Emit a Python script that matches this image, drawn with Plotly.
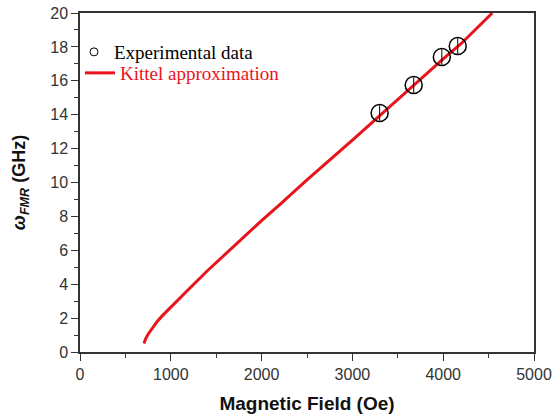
import plotly.graph_objects as go

exp_field = [3300, 3675, 3985, 4160]
exp_freq = [14.1, 15.75, 17.4, 18.05]
exp_err = [0.45, 0.45, 0.45, 0.45]

# Kittel approximation curve
kit_field = [705, 720, 750, 800, 850, 900, 1000, 1100, 1200, 1400, 1600, 1800,
             2000, 2200, 2500, 3000, 3300, 3500, 4000, 4200, 4540]
kit_freq = [0.5, 0.75, 1.05, 1.45, 1.8, 2.1, 2.65, 3.2, 3.72, 4.78, 5.78, 6.75,
            7.75, 8.7, 10.15, 12.5, 13.95, 14.9, 17.3, 18.2, 20.0]

x_ticks = [0, 1000, 2000, 3000, 4000, 5000]
y_ticks = [0, 2, 4, 6, 8, 10, 12, 14, 16, 18, 20]

RED = "#e8141b"
LEG_FONT = dict(family="Liberation Serif, Times New Roman", size=19, color="black")

fig = go.Figure()
# legend entry for experimental data (small symbol, as in the reference legend)
fig.add_trace(go.Scatter(
    x=[None], y=[None], mode="markers", name="Experimental data",
    marker=dict(symbol="circle-open", size=8, color="black",
                line=dict(width=1, color="black")),
    legend="legend",
))
fig.add_trace(go.Scatter(
    x=kit_field, y=kit_freq, mode="lines",
    name='<span style="color:#e8141b">Kittel approximation</span>',
    line=dict(color=RED, width=3),
    legend="legend2",
))
fig.add_trace(go.Scatter(
    x=exp_field, y=exp_freq, mode="markers",
    name="Experimental data", showlegend=False,
    marker=dict(symbol="circle-open", size=17, color="black",
                line=dict(width=1.5, color="black")),
    error_y=dict(type="data", array=exp_err, color="black", thickness=1, width=0),
))

axis_common = dict(
    showline=True, linecolor="#333", linewidth=1.5, mirror=True,
    ticks="outside", ticklen=7, tickwidth=1.3, tickcolor="#333",
    showgrid=False, zeroline=False, automargin=False,
    tickfont=dict(family="Liberation Sans, Arial", size=16, color="#333"),
    minor=dict(ticks="outside", ticklen=4, tickwidth=1.2, tickcolor="#333"),
)

fig.update_layout(
    width=553, height=418,
    margin=dict(l=80, r=19, t=13, b=66),
    paper_bgcolor="white", plot_bgcolor="white",
    xaxis=dict(range=[0, 5000], tickvals=x_ticks, **axis_common,
               title=dict(text="<b>Magnetic Field (Oe)</b>", standoff=15,
                          font=dict(family="Liberation Sans, Arial", size=19, color="#111"))),
    yaxis=dict(range=[0, 20], tickvals=y_ticks, **axis_common,
               title=dict(text="<b><i>ω<sub>FMR</sub></i> (GHz)</b>", standoff=20,
                          font=dict(family="Liberation Sans, Arial", size=18, color="#111"))),
    legend=dict(x=-0.0132, y=0.941, xanchor="left", yanchor="top",
                bgcolor="rgba(0,0,0,0)", font=LEG_FONT, itemwidth=30),
    legend2=dict(x=0.0, y=0.879, xanchor="left", yanchor="top",
                 bgcolor="rgba(0,0,0,0)", font=LEG_FONT, itemwidth=30),
    showlegend=True,
)
fig.update_xaxes(minor=dict(dtick=500))
fig.update_yaxes(minor=dict(dtick=1))

fig.write_html("out.html", config={"displayModeBar": False},
               post_script="document.body.style.margin='0';")
